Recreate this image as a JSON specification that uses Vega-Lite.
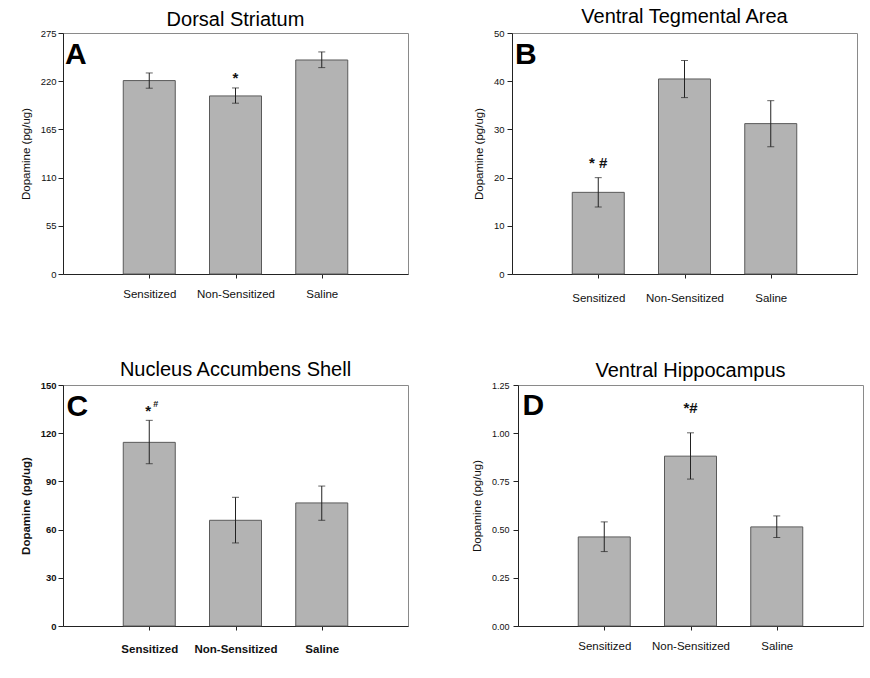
{
  "$schema": "https://vega.github.io/schema/vega-lite/v6.json",
  "background": "white",
  "padding": {"left": 19, "top": 6, "right": 5, "bottom": 5},
  "config": {
    "font": "Liberation Sans",
    "view": {"stroke": "#8a8a8a", "strokeWidth": 1},
    "title": {"font": "Liberation Sans", "fontSize": 20, "fontWeight": "normal", "color": "#000", "anchor": "middle"},
    "axis": {"grid": false, "domainColor": "#222", "tickColor": "#222", "labelColor": "#111", "titleColor": "#111", "labelFont": "Liberation Sans", "titleFont": "Liberation Sans"},
    "axisX": {"labelAngle": 0, "tickSize": 4, "labelFontSize": 11.5, "labelPadding": 10},
    "axisY": {"tickSize": 5, "labelPadding": 2, "labelFontSize": 9.5, "titleFontSize": 11.5, "titleFontWeight": "normal", "titlePadding": 9}
  },
  "datasets": {
    "dsA": [
      {"group": "Sensitized", "mean": 220.7, "lo": 212.0, "hi": 229.4, "sig": ""},
      {"group": "Non-Sensitized", "mean": 203.2, "lo": 194.9, "hi": 212.3, "sig": "*"},
      {"group": "Saline", "mean": 244.2, "lo": 235.5, "hi": 253.4, "sig": ""}
    ],
    "dsB": [
      {"group": "Sensitized", "mean": 16.94, "lo": 13.9, "hi": 19.99, "sig": "* #"},
      {"group": "Non-Sensitized", "mean": 40.46, "lo": 36.6, "hi": 44.3, "sig": ""},
      {"group": "Saline", "mean": 31.2, "lo": 26.4, "hi": 35.96, "sig": ""}
    ],
    "dsC": [
      {"group": "Sensitized", "mean": 114.3, "lo": 101.0, "hi": 128.0, "sig": "*", "sup": "#"},
      {"group": "Non-Sensitized", "mean": 65.8, "lo": 51.7, "hi": 80.1, "sig": "", "sup": ""},
      {"group": "Saline", "mean": 76.6, "lo": 65.8, "hi": 87.1, "sig": "", "sup": ""}
    ],
    "dsD": [
      {"group": "Sensitized", "mean": 0.462, "lo": 0.386, "hi": 0.540, "sig": ""},
      {"group": "Non-Sensitized", "mean": 0.881, "lo": 0.762, "hi": 1.002, "sig": "*#"},
      {"group": "Saline", "mean": 0.514, "lo": 0.459, "hi": 0.571, "sig": ""}
    ]
  },
  "spacing": 55,
  "vconcat": [
    {
      "spacing": 63,
      "hconcat": [
        {
          "width": 345, "height": 241,
          "title": {"text": "Dorsal Striatum", "offset": -2},
          "data": {"name": "dsA"},
          "encoding": {
            "x": {"field": "group", "type": "nominal", "sort": null,
              "scale": {"type": "point", "domain": ["left", "Sensitized", "Non-Sensitized", "Saline", "right"], "padding": 0},
              "axis": {"title": null, "values": ["Sensitized", "Non-Sensitized", "Saline"], "labelPadding": 10}}
          },
          "layer": [
            {"mark": {"type": "bar", "size": 52, "fill": "#b3b3b3", "stroke": "#5a5a5a", "strokeWidth": 1},
             "encoding": {"y": {"field": "mean", "type": "quantitative", "scale": {"domain": [0, 275], "nice": false},
               "axis": {"title": "Dopamine (pg/ug)", "values": [0, 55, 110, 165, 220, 275]}}}},
            {"mark": {"type": "rule", "color": "#222", "strokeWidth": 1},
             "encoding": {"y": {"field": "lo", "type": "quantitative"}, "y2": {"field": "hi"}}},
            {"mark": {"type": "tick", "size": 7, "thickness": 1, "color": "#222", "orient": "horizontal"},
             "encoding": {"y": {"field": "lo", "type": "quantitative"}}},
            {"mark": {"type": "tick", "size": 7, "thickness": 1, "color": "#222", "orient": "horizontal"},
             "encoding": {"y": {"field": "hi", "type": "quantitative"}}},
            {"mark": {"type": "text", "fontSize": 15, "fontWeight": "bold", "baseline": "alphabetic", "dy": -4.5, "color": "#111"},
             "encoding": {"y": {"field": "hi", "type": "quantitative"}, "text": {"field": "sig"}}},
            {"data": {"values": [{"letter": "A"}]},
             "mark": {"type": "text", "fontSize": 30, "fontWeight": "bold", "align": "left", "baseline": "alphabetic", "dx": 2, "dy": 31, "color": "#000"},
             "encoding": {"x": {"datum": "left"}, "y": {"datum": 275}, "text": {"field": "letter"}}}
          ]
        },
        {
          "width": 345, "height": 241,
          "title": {"text": "Ventral Tegmental Area", "offset": 1},
          "data": {"name": "dsB"},
          "encoding": {
            "x": {"field": "group", "type": "nominal", "sort": null,
              "scale": {"type": "point", "domain": ["left", "Sensitized", "Non-Sensitized", "Saline", "right"], "padding": 0},
              "axis": {"title": null, "values": ["Sensitized", "Non-Sensitized", "Saline"], "labelPadding": 14}}
          },
          "layer": [
            {"mark": {"type": "bar", "size": 52, "fill": "#b3b3b3", "stroke": "#5a5a5a", "strokeWidth": 1},
             "encoding": {"y": {"field": "mean", "type": "quantitative", "scale": {"domain": [0, 50], "nice": false},
               "axis": {"title": "Dopamine (pg/ug)", "labelPadding": 3, "values": [0, 10, 20, 30, 40, 50]}}}},
            {"mark": {"type": "rule", "color": "#222", "strokeWidth": 1},
             "encoding": {"y": {"field": "lo", "type": "quantitative"}, "y2": {"field": "hi"}}},
            {"mark": {"type": "tick", "size": 7, "thickness": 1, "color": "#222", "orient": "horizontal"},
             "encoding": {"y": {"field": "lo", "type": "quantitative"}}},
            {"mark": {"type": "tick", "size": 7, "thickness": 1, "color": "#222", "orient": "horizontal"},
             "encoding": {"y": {"field": "hi", "type": "quantitative"}}},
            {"mark": {"type": "text", "fontSize": 15, "fontWeight": "bold", "baseline": "alphabetic", "dy": -10, "color": "#111"},
             "encoding": {"y": {"field": "hi", "type": "quantitative"}, "text": {"field": "sig"}}},
            {"data": {"values": [{"letter": "B"}]},
             "mark": {"type": "text", "fontSize": 30, "fontWeight": "bold", "align": "left", "baseline": "alphabetic", "dx": 3, "dy": 31, "color": "#000"},
             "encoding": {"x": {"datum": "left"}, "y": {"datum": 50}, "text": {"field": "letter"}}}
          ]
        }
      ]
    },
    {
      "spacing": 61,
      "hconcat": [
        {
          "width": 345, "height": 241,
          "title": {"text": "Nucleus Accumbens Shell", "offset": 0},
          "data": {"name": "dsC"},
          "encoding": {
            "x": {"field": "group", "type": "nominal", "sort": null,
              "scale": {"type": "point", "domain": ["left", "Sensitized", "Non-Sensitized", "Saline", "right"], "padding": 0},
              "axis": {"title": null, "values": ["Sensitized", "Non-Sensitized", "Saline"], "labelPadding": 13, "labelFontWeight": "bold"}}
          },
          "layer": [
            {"mark": {"type": "bar", "size": 52, "fill": "#b3b3b3", "stroke": "#5a5a5a", "strokeWidth": 1},
             "encoding": {"y": {"field": "mean", "type": "quantitative", "scale": {"domain": [0, 150], "nice": false},
               "axis": {"title": "Dopamine (pg/ug)", "titleFontWeight": "bold", "labelFontWeight": "bold", "values": [0, 30, 60, 90, 120, 150]}}}},
            {"mark": {"type": "rule", "color": "#222", "strokeWidth": 1},
             "encoding": {"y": {"field": "lo", "type": "quantitative"}, "y2": {"field": "hi"}}},
            {"mark": {"type": "tick", "size": 7, "thickness": 1, "color": "#222", "orient": "horizontal"},
             "encoding": {"y": {"field": "lo", "type": "quantitative"}}},
            {"mark": {"type": "tick", "size": 7, "thickness": 1, "color": "#222", "orient": "horizontal"},
             "encoding": {"y": {"field": "hi", "type": "quantitative"}}},
            {"mark": {"type": "text", "fontSize": 15, "fontWeight": "bold", "baseline": "alphabetic", "dx": -1, "dy": -4.5, "color": "#111"},
             "encoding": {"y": {"field": "hi", "type": "quantitative"}, "text": {"field": "sig"}}},
            {"mark": {"type": "text", "fontSize": 9, "fontWeight": "bold", "baseline": "alphabetic", "dx": 6.5, "dy": -13.3, "color": "#111"},
             "encoding": {"y": {"field": "hi", "type": "quantitative"}, "text": {"field": "sup"}}},
            {"data": {"values": [{"letter": "C"}]},
             "mark": {"type": "text", "fontSize": 30, "fontWeight": "bold", "align": "left", "baseline": "alphabetic", "dx": 3.5, "dy": 31, "color": "#000"},
             "encoding": {"x": {"datum": "left"}, "y": {"datum": 150}, "text": {"field": "letter"}}}
          ]
        },
        {
          "width": 345, "height": 241,
          "title": {"text": "Ventral Hippocampus", "offset": 0},
          "data": {"name": "dsD"},
          "encoding": {
            "x": {"field": "group", "type": "nominal", "sort": null,
              "scale": {"type": "point", "domain": ["left", "Sensitized", "Non-Sensitized", "Saline", "right"], "padding": 0},
              "axis": {"title": null, "values": ["Sensitized", "Non-Sensitized", "Saline"], "labelPadding": 10}}
          },
          "layer": [
            {"mark": {"type": "bar", "size": 52, "fill": "#b3b3b3", "stroke": "#5a5a5a", "strokeWidth": 1},
             "encoding": {"y": {"field": "mean", "type": "quantitative", "scale": {"domain": [0, 1.25], "nice": false},
               "axis": {"title": "Dopamine (pg/ug)", "format": ".2f", "labelFontSize": 9, "labelPadding": 4, "values": [0, 0.25, 0.5, 0.75, 1.0, 1.25]}}}},
            {"mark": {"type": "rule", "color": "#222", "strokeWidth": 1},
             "encoding": {"y": {"field": "lo", "type": "quantitative"}, "y2": {"field": "hi"}}},
            {"mark": {"type": "tick", "size": 7, "thickness": 1, "color": "#222", "orient": "horizontal"},
             "encoding": {"y": {"field": "lo", "type": "quantitative"}}},
            {"mark": {"type": "tick", "size": 7, "thickness": 1, "color": "#222", "orient": "horizontal"},
             "encoding": {"y": {"field": "hi", "type": "quantitative"}}},
            {"mark": {"type": "text", "fontSize": 15, "fontWeight": "bold", "baseline": "alphabetic", "dy": -20, "color": "#111"},
             "encoding": {"y": {"field": "hi", "type": "quantitative"}, "text": {"field": "sig"}}},
            {"data": {"values": [{"letter": "D"}]},
             "mark": {"type": "text", "fontSize": 30, "fontWeight": "bold", "align": "left", "baseline": "alphabetic", "dx": 4.5, "dy": 30, "color": "#000"},
             "encoding": {"x": {"datum": "left"}, "y": {"datum": 1.25}, "text": {"field": "letter"}}}
          ]
        }
      ]
    }
  ]
}
